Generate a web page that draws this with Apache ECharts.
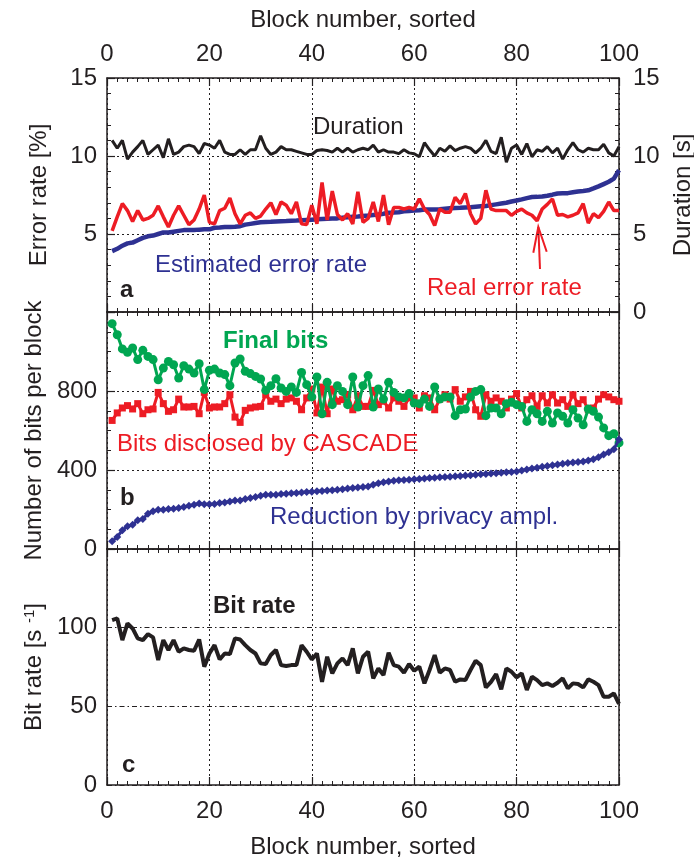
<!DOCTYPE html>
<html>
<head>
<meta charset="utf-8">
<script src="https://cdn.jsdelivr.net/npm/echarts@6/dist/echarts.min.js"></script>
<style>
  html, body { margin: 0; padding: 0; background: #fff; }
  #chart { width: 694px; height: 865px; }
</style>
</head>
<body>
<div id="chart"></div>
<script>
// block numbers (sorted), 1..100
const blocks = Array.from({length: 100}, (_, i) => i + 1);

// panel a
const duration = [
    11.0, 10.5, 11.0, 9.8, 10.25, 10.6, 11.0, 10.1, 10.4, 10.7, 9.9, 11.1, 10.1, 10.25, 10.6, 10.7, 10.6, 10.15, 10.8, 10.7,
    10.5, 11.0, 10.25, 10.1, 10.1, 10.4, 10.1, 10.4, 10.4, 11.3, 10.5, 10.1, 10.25, 10.6, 10.4, 10.4, 10.3, 10.2, 10.1, 10.1,
    10.35, 10.4, 10.35, 10.25, 10.5, 10.25, 10.5, 10.25, 10.4, 10.5, 10.4, 10.7, 10.25, 10.4, 10.25, 10.25, 10.15, 10.4, 10.2, 10.15,
    9.95, 10.85, 10.4, 10.0, 10.5, 10.3, 10.65, 10.35, 10.5, 10.6, 10.5, 10.2, 10.5, 11.0, 10.3, 10.15, 11.2, 9.6, 10.5, 10.7,
    10.1, 10.8, 9.95, 10.4, 10.3, 10.6, 10.2, 10.5, 9.8, 10.4, 10.85, 10.4, 10.25, 10.5, 10.4, 10.4, 10.75, 10.2, 10.0, 10.6
];
const realError = [
    5.2, 6.1, 6.95, 6.5, 5.8, 6.5, 5.9, 6.0, 6.2, 6.8, 6.1, 5.45, 6.2, 6.8, 6.2, 5.6, 5.9, 6.6, 7.5, 5.75,
    5.65, 6.5, 6.65, 7.3, 6.3, 5.65, 6.2, 6.35, 6.0, 6.15, 6.6, 7.0, 6.25, 7.05, 6.85, 6.3, 7.05, 5.65, 5.6, 6.85,
    5.65, 8.3, 5.9, 7.75, 6.25, 5.9, 6.3, 5.65, 7.7, 5.75, 6.0, 7.05, 5.8, 7.5, 5.6, 6.7, 6.7, 6.6, 6.7, 6.6,
    7.25, 6.6, 6.25, 5.55, 6.6, 6.4, 6.4, 7.35, 6.95, 7.6, 6.3, 5.65, 6.0, 7.8, 6.6, 6.5, 6.5, 6.5, 6.2, 6.45,
    6.6, 6.35, 6.2, 5.85, 6.6, 6.9, 7.25, 6.2, 6.25, 6.1, 6.2, 6.35, 6.95, 5.7, 6.3, 6.05, 6.45, 7.05, 6.5, 6.5
];
const estError = [
    3.9, 4.05, 4.25, 4.4, 4.45, 4.6, 4.75, 4.85, 4.9, 5.0, 5.1, 5.1, 5.15, 5.2, 5.25, 5.25, 5.25, 5.28, 5.3, 5.3,
    5.4, 5.42, 5.45, 5.45, 5.47, 5.5, 5.6, 5.65, 5.7, 5.75, 5.77, 5.78, 5.8, 5.82, 5.83, 5.85, 5.86, 5.88, 5.9, 5.92,
    5.94, 5.96, 5.98, 6.0, 6.0, 6.05, 6.08, 6.1, 6.12, 6.15, 6.18, 6.22, 6.25, 6.3, 6.37, 6.38, 6.4, 6.45, 6.48, 6.5,
    6.52, 6.57, 6.57, 6.57, 6.58, 6.62, 6.65, 6.67, 6.68, 6.7, 6.72, 6.75, 6.78, 6.8, 6.85, 6.9, 6.95, 7.0, 7.08, 7.15,
    7.22, 7.3, 7.37, 7.38, 7.4, 7.45, 7.52, 7.6, 7.61, 7.62, 7.68, 7.73, 7.76, 7.8, 7.92, 8.05, 8.2, 8.35, 8.55, 9.1
];

// panel b
const finalBits = [
    1141, 1085, 1013, 996, 1018, 959, 1006, 975, 959, 857, 916, 950, 933, 866, 928, 911, 891, 938, 807, 905,
    911, 891, 883, 827, 942, 962, 900, 888, 874, 861, 803, 827, 862, 815, 798, 820, 793, 894, 832, 770,
    871, 685, 844, 731, 827, 798, 731, 871, 719, 827, 878, 719, 810, 759, 844, 793, 770, 765, 787, 739,
    736, 759, 722, 820, 759, 770, 770, 675, 705, 709, 770, 798, 807, 675, 714, 714, 685, 736, 743, 731,
    722, 646, 705, 685, 646, 697, 638, 689, 672, 638, 705, 663, 629, 709, 697, 668, 613, 574, 584, 537
];
const cascadeBits = [
    651, 689, 714, 726, 709, 736, 685, 705, 709, 793, 736, 697, 705, 759, 719, 719, 722, 685, 793, 714,
    719, 719, 736, 781, 668, 641, 702, 714, 719, 722, 781, 748, 759, 736, 759, 765, 748, 705, 765, 810,
    689, 820, 685, 810, 748, 756, 781, 705, 776, 722, 722, 803, 731, 748, 714, 765, 748, 722, 765, 765,
    714, 776, 765, 705, 759, 781, 759, 807, 748, 770, 798, 705, 672, 781, 748, 765, 748, 714, 759, 787,
    714, 756, 776, 722, 776, 739, 781, 739, 756, 722, 781, 736, 756, 705, 714, 759, 781, 770, 756, 748
];
const privacyBits = [
    39, 61, 95, 115, 123, 145, 152, 179, 191, 199, 199, 203, 204, 208, 213, 219, 224, 230, 226, 226,
    228, 233, 236, 240, 245, 246, 253, 258, 263, 270, 275, 275, 275, 278, 280, 282, 284, 286, 288, 290,
    292, 294, 296, 298, 300, 303, 306, 309, 312, 314, 317, 325, 333, 338, 342, 345, 348, 350, 351, 353,
    355, 357, 359, 361, 363, 365, 366, 368, 370, 372, 374, 376, 378, 380, 382, 384, 386, 388, 390, 393,
    398, 403, 408, 412, 416, 420, 424, 428, 432, 436, 438, 440, 443, 448, 455, 465, 478, 490, 505, 555
];

// panel c
const bitRate = [
    104.8, 105.9, 92.1, 102.7, 99.5, 93.2, 92.1, 95.9, 93.8, 79.4, 92.1, 85.8, 92.1, 84.7, 86.8, 85.8, 85.3, 92.5, 75.2, 83.6,
    88.9, 79.8, 83.6, 83.2, 93.2, 92.5, 88.9, 85.8, 83.6, 77.3, 76.9, 82.6, 85.8, 76.2, 75.6, 76.2, 76.2, 88.9, 84.7, 79.8,
    83.6, 65.6, 81.5, 70.9, 77.3, 80.5, 76.2, 86.8, 70.9, 81.5, 84.7, 67.8, 74.1, 69.9, 84.1, 76.2, 75.2, 71.4, 76.9, 72.6,
    75.2, 64.6, 73.1, 82.6, 71.4, 74.1, 73.1, 65.6, 67.1, 66.7, 73.1, 79.0, 76.2, 62.0, 65.6, 70.5, 60.8, 74.1, 72.0, 68.4,
    70.9, 60.4, 68.8, 66.7, 63.5, 64.6, 62.9, 65.0, 67.8, 61.4, 64.6, 64.2, 62.0, 67.1, 65.6, 63.5, 56.1, 56.1, 58.2, 51.5
];

const FONT = '"Liberation Sans", Arial, sans-serif';
const INK = '#231f20';
const RED = '#ed1c24';
const GREEN = '#00a651';
const BLUE = '#2e3192';
const FS = 24;

const pairs = arr => arr.map((v, i) => [blocks[i], v]);

// x axis helper: ticks inside on every panel edge
function xAxis(grid, pos, extra) {
    return Object.assign({
        type: 'value', gridIndex: grid, position: pos,
        min: 0, max: 100, interval: 20,
        axisLine: {show: true, onZero: false, lineStyle: {color: INK, width: 1.5}},
        axisTick: {show: true, inside: true, length: 8, lineStyle: {color: INK, width: 1.2}},
        minorTick: {show: true, splitNumber: 10, length: 4, lineStyle: {color: INK, width: 1}},
        axisLabel: {show: false},
        splitLine: {show: false}
    }, extra);
}

function yAxis(grid, pos, extra) {
    return Object.assign({
        type: 'value', gridIndex: grid, position: pos,
        axisLine: {show: true, onZero: false, lineStyle: {color: INK, width: 1.5}},
        axisTick: {show: false},
        axisLabel: {show: false},
        splitLine: {show: false}
    }, extra);
}

const tickLabel = {show: true, color: INK, fontSize: FS, fontFamily: FONT};
const dotted = {show: true, lineStyle: {color: INK, width: 1, type: [2, 3]}};
const dashDot = {show: true, lineStyle: {color: INK, width: 1, type: [5, 3, 1.5, 3]}};
const nameStyle = {color: INK, fontSize: FS, fontFamily: FONT};

const option = {
    animation: false,
    backgroundColor: '#fff',
    grid: [
        {left: 107, right: 75, top: 78, height: 234, outerBoundsMode: 'none'},
        {left: 107, right: 75, top: 312, height: 237, outerBoundsMode: 'none'},
        {left: 107, right: 75, top: 549, height: 236, outerBoundsMode: 'none'}
    ],
    xAxis: [
        xAxis(0, 'top', {
            axisLabel: Object.assign({margin: 12}, tickLabel),
            splitLine: dotted,
            name: 'Block number, sorted', nameLocation: 'middle', nameGap: 46, nameTextStyle: nameStyle
        }),
        xAxis(0, 'bottom'),
        xAxis(1, 'top', {splitLine: dotted}),
        xAxis(1, 'bottom'),
        xAxis(2, 'top', {splitLine: dotted}),
        xAxis(2, 'bottom', {
            axisLabel: Object.assign({margin: 14}, tickLabel),
            name: 'Block number, sorted', nameLocation: 'middle', nameGap: 50, nameTextStyle: nameStyle
        })
    ],
    yAxis: [
        yAxis(0, 'left', {
            min: 0, max: 15, interval: 5,
            axisTick: {show: true, inside: true, length: 8, lineStyle: {color: INK, width: 1.2}},
            minorTick: {show: true, splitNumber: 5, length: 4, lineStyle: {color: INK}},
            axisLabel: Object.assign({margin: 10, showMinLabel: false}, tickLabel),
            splitLine: dotted,
            name: 'Error rate [%]', nameLocation: 'middle', nameGap: 56, nameTextStyle: nameStyle
        }),
        yAxis(0, 'right', {
            min: 0, max: 15, interval: 5,
            axisTick: {show: true, inside: true, length: 8, lineStyle: {color: INK, width: 1.2}},
            minorTick: {show: true, splitNumber: 5, length: 4, lineStyle: {color: INK}},
            axisLabel: Object.assign({margin: 14}, tickLabel),
            name: 'Duration [s]', nameLocation: 'middle', nameGap: 52, nameTextStyle: nameStyle
        }),
        yAxis(1, 'left', {
            min: 0, max: 1200, interval: 400,
            axisTick: {show: true, inside: true, length: 8, lineStyle: {color: INK, width: 1.2}},
            minorTick: {show: true, splitNumber: 4, length: 4, lineStyle: {color: INK}},
            axisLabel: Object.assign({margin: 10, showMaxLabel: false}, tickLabel),
            splitLine: dotted,
            name: 'Number of bits per block', nameLocation: 'middle', nameGap: 56, nameTextStyle: nameStyle
        }),
        yAxis(1, 'right', {min: 0, max: 1200}),
        yAxis(2, 'left', {
            min: 0, max: 150, interval: 50,
            axisLabel: Object.assign({margin: 10, showMaxLabel: false}, tickLabel),
            splitLine: dashDot,
            name: 'Bit rate [s {sup|-1}]', nameLocation: 'middle', nameGap: 56,
            nameTextStyle: Object.assign({
                rich: {sup: {fontSize: 15, fontFamily: FONT, color: INK, verticalAlign: 'top', lineHeight: 24}}
            }, nameStyle)
        }),
        yAxis(2, 'right', {min: 0, max: 150})
    ],
    series: [
        {type: 'line', xAxisIndex: 0, yAxisIndex: 1, data: pairs(duration), showSymbol: false,
         lineStyle: {color: INK, width: 3}, z: 3},
        {type: 'line', xAxisIndex: 0, yAxisIndex: 0, data: pairs(estError), showSymbol: false,
         lineStyle: {color: BLUE, width: 4.5}, z: 3},
        {type: 'line', xAxisIndex: 0, yAxisIndex: 0, data: pairs(realError), showSymbol: false,
         lineStyle: {color: RED, width: 3.5}, z: 4},
        {type: 'line', xAxisIndex: 2, yAxisIndex: 2, data: pairs(cascadeBits),
         symbol: 'rect', symbolSize: 7, itemStyle: {color: RED}, lineStyle: {color: RED, width: 3}, z: 3},
        {type: 'line', xAxisIndex: 2, yAxisIndex: 2, data: pairs(finalBits),
         symbol: 'circle', symbolSize: 9, itemStyle: {color: GREEN}, lineStyle: {color: GREEN, width: 3}, z: 4},
        {type: 'line', xAxisIndex: 2, yAxisIndex: 2, data: pairs(privacyBits),
         symbol: 'diamond', symbolSize: 8, itemStyle: {color: BLUE}, lineStyle: {color: BLUE, width: 3}, z: 5},
        {type: 'line', xAxisIndex: 4, yAxisIndex: 4, data: pairs(bitRate), showSymbol: false,
         lineStyle: {color: INK, width: 4}, z: 3}
    ],
    graphic: [
        {type: 'text', x: 313, y: 127, style: {text: 'Duration', fill: INK, font: FS + 'px ' + FONT, verticalAlign: 'middle'}},
        {type: 'text', x: 155, y: 265, style: {text: 'Estimated error rate', fill: BLUE, font: FS + 'px ' + FONT, verticalAlign: 'middle'}},
        {type: 'text', x: 427, y: 288, style: {text: 'Real error rate', fill: RED, font: FS + 'px ' + FONT, verticalAlign: 'middle'}},
        {type: 'text', x: 120, y: 290, style: {text: 'a', fill: INK, font: 'bold ' + FS + 'px ' + FONT, verticalAlign: 'middle'}},
        {type: 'text', x: 223, y: 341, style: {text: 'Final bits', fill: GREEN, font: 'bold ' + FS + 'px ' + FONT, verticalAlign: 'middle'}},
        {type: 'text', x: 117, y: 444, style: {text: 'Bits disclosed by CASCADE', fill: RED, font: FS + 'px ' + FONT, verticalAlign: 'middle'}},
        {type: 'text', x: 120, y: 498, style: {text: 'b', fill: INK, font: 'bold ' + FS + 'px ' + FONT, verticalAlign: 'middle'}},
        {type: 'text', x: 270, y: 517, style: {text: 'Reduction by privacy ampl.', fill: BLUE, font: FS + 'px ' + FONT, verticalAlign: 'middle'}},
        {type: 'text', x: 213, y: 606, style: {text: 'Bit rate', fill: INK, font: 'bold ' + FS + 'px ' + FONT, verticalAlign: 'middle'}},
        {type: 'text', x: 122, y: 765, style: {text: 'c', fill: INK, font: 'bold ' + FS + 'px ' + FONT, verticalAlign: 'middle'}},
        // arrow pointing at the real error rate dip
        {type: 'line', shape: {x1: 540, y1: 269, x2: 538.3, y2: 227}, style: {stroke: RED, lineWidth: 2}},
        {type: 'polyline', shape: {points: [[533.3, 252.7], [538.3, 227], [546.7, 251.7]]}, style: {stroke: RED, lineWidth: 2, fill: null}}
    ]
};

const chart = echarts.init(document.getElementById('chart'), null, {renderer: 'canvas'});
chart.setOption(option);
</script>
</body>
</html>
